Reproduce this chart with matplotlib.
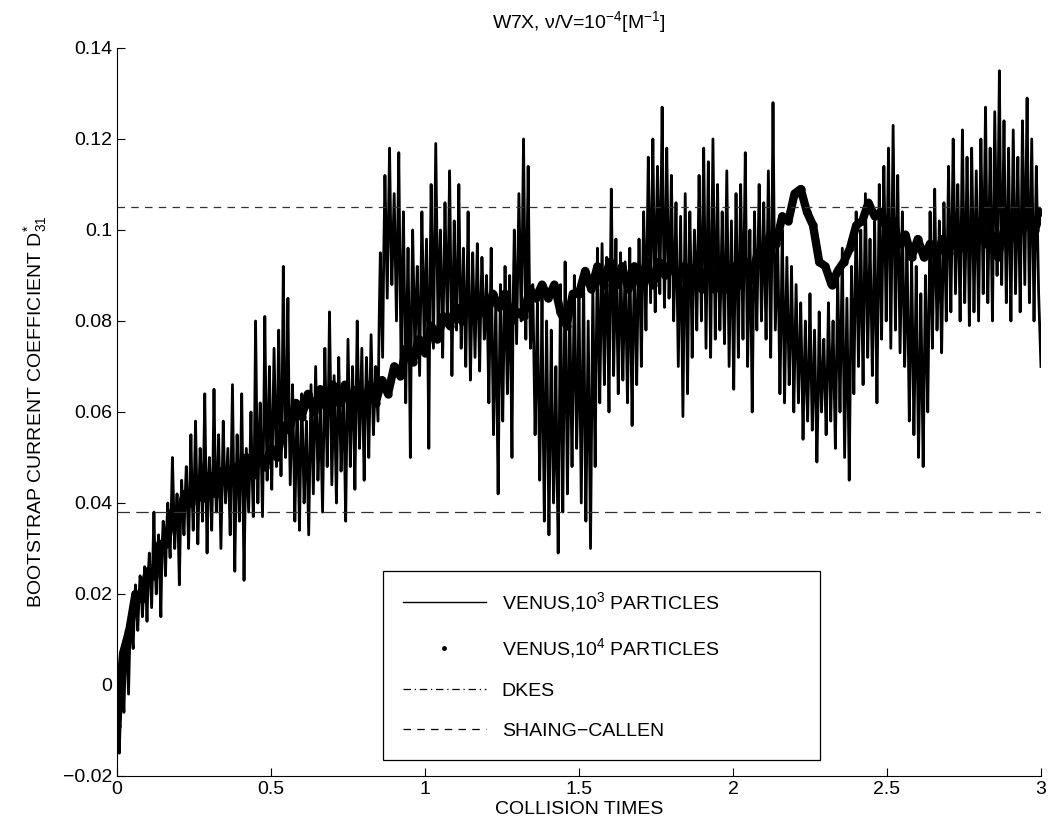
import numpy as np
import matplotlib
matplotlib.use('Agg')
import matplotlib.pyplot as plt
from matplotlib.lines import Line2D

plt.rcParams['font.family'] = ['Liberation Sans', 'DejaVu Sans']
plt.rcParams['mathtext.fontset'] = 'custom'
plt.rcParams['mathtext.rm'] = 'Liberation Sans'
plt.rcParams['mathtext.it'] = 'Liberation Sans'

# D31* from VENUS with 10^3 particles, units of 1e-3, sampled evenly over 0..3 collision times
# (one row = 0.15 collision times)
venus_1e3 = [
    -9, -4, -15, -6, 3, -1, -6, 4, 12, 5, -2, 9, 17, 11, 8, 16, 22, 18, 12, 19, 24, 21, 15, 20, 26, 22, 14, 24, 29, 23, 17, 27, 38, 26, 20, 28, 33, 25, 15, 30,
    36, 31, 24, 34, 40, 33, 28, 38, 50, 40, 30, 37, 42, 34, 22, 36, 45, 38, 33, 41, 48, 40, 30, 43, 55, 42, 34, 45, 58, 44, 31, 43, 52, 46, 36, 47, 64, 45, 29, 44,
    50, 43, 34, 46, 65, 48, 38, 45, 55, 42, 30, 44, 58, 47, 40, 46, 52, 43, 33, 49, 66, 45, 25, 42, 55, 46, 36, 48, 64, 44, 23, 41, 52, 45, 38, 48, 60, 47, 37, 52,
    80, 58, 40, 54, 62, 50, 37, 56, 81, 60, 45, 57, 70, 55, 43, 58, 74, 61, 48, 59, 78, 62, 46, 63, 92, 68, 50, 64, 85, 60, 44, 55, 66, 52, 36, 50, 62, 48, 34, 50,
    64, 52, 40, 48, 58, 46, 33, 50, 66, 54, 42, 56, 70, 58, 45, 53, 62, 50, 38, 55, 74, 60, 48, 62, 82, 64, 44, 56, 68, 54, 40, 57, 72, 60, 47, 55, 66, 52, 36, 57,
    76, 62, 48, 60, 70, 58, 43, 62, 80, 65, 52, 63, 74, 60, 45, 61, 72, 63, 50, 64, 77, 66, 55, 62, 70, 64, 58, 80, 95, 84, 72, 95, 112, 98, 85, 102, 118, 100, 88, 98,
    108, 94, 80, 98, 117, 92, 70, 88, 104, 84, 62, 80, 96, 76, 50, 82, 100, 86, 72, 84, 92, 80, 68, 85, 104, 90, 75, 86, 98, 78, 52, 88, 110, 92, 74, 96, 119, 98, 78, 90,
    100, 86, 72, 90, 106, 92, 80, 95, 113, 90, 68, 86, 102, 88, 78, 92, 110, 90, 74, 84, 96, 82, 70, 86, 104, 84, 67, 80, 95, 83, 72, 85, 97, 82, 69, 84, 94, 86, 76, 80,
    90, 76, 62, 80, 96, 74, 55, 70, 85, 64, 42, 68, 88, 72, 58, 76, 92, 78, 64, 76, 90, 72, 50, 84, 100, 88, 75, 92, 108, 94, 80, 98, 120, 96, 76, 94, 114, 90, 74, 80,
    88, 72, 55, 68, 84, 64, 45, 62, 86, 58, 36, 60, 80, 56, 33, 54, 78, 58, 40, 52, 70, 48, 29, 56, 88, 62, 38, 64, 93, 66, 42, 62, 84, 65, 48, 68, 90, 70, 52, 64,
    86, 62, 40, 66, 90, 60, 36, 58, 80, 54, 30, 60, 88, 68, 48, 74, 96, 78, 62, 80, 97, 82, 66, 84, 94, 78, 60, 86, 109, 88, 68, 82, 98, 80, 64, 78, 95, 82, 67, 80,
    93, 78, 62, 80, 96, 76, 57, 78, 92, 80, 66, 84, 98, 86, 70, 88, 104, 92, 78, 96, 116, 100, 84, 102, 120, 98, 82, 100, 114, 102, 86, 104, 127, 102, 83, 98, 118, 100, 85, 96,
    112, 96, 80, 92, 106, 88, 70, 86, 103, 82, 59, 84, 108, 86, 64, 88, 104, 90, 72, 88, 100, 92, 78, 94, 112, 96, 80, 98, 118, 96, 74, 94, 115, 92, 72, 96, 120, 98, 76, 94,
    110, 92, 78, 90, 104, 88, 75, 94, 113, 92, 70, 86, 102, 84, 65, 88, 108, 90, 72, 92, 110, 94, 76, 96, 117, 92, 70, 86, 100, 82, 60, 84, 104, 90, 78, 94, 110, 96, 80, 92,
    106, 90, 76, 94, 113, 92, 72, 96, 128, 100, 78, 88, 98, 82, 64, 80, 100, 84, 62, 78, 94, 80, 66, 76, 92, 78, 60, 74, 88, 75, 62, 72, 84, 70, 54, 68, 80, 66, 58, 70,
    86, 70, 56, 66, 78, 64, 49, 62, 82, 70, 60, 68, 76, 66, 55, 68, 84, 72, 58, 70, 80, 66, 52, 70, 90, 76, 60, 78, 96, 74, 50, 68, 85, 64, 45, 70, 92, 80, 64, 84,
    104, 86, 70, 84, 100, 82, 66, 88, 108, 90, 72, 86, 98, 84, 68, 82, 102, 84, 62, 86, 110, 92, 76, 96, 114, 98, 80, 100, 118, 96, 74, 98, 123, 100, 78, 96, 112, 92, 73, 88,
    104, 86, 70, 82, 98, 78, 58, 74, 94, 76, 55, 72, 92, 70, 50, 66, 86, 68, 48, 70, 90, 74, 60, 82, 104, 88, 74, 90, 109, 92, 78, 88, 102, 86, 73, 90, 106, 94, 80, 96,
    114, 98, 82, 100, 120, 104, 86, 98, 110, 96, 80, 100, 122, 102, 84, 98, 116, 100, 79, 96, 118, 102, 82, 98, 113, 96, 80, 100, 120, 104, 86, 106, 127, 104, 84, 100, 118, 98, 80, 104,
    126, 108, 90, 110, 135, 106, 88, 104, 124, 102, 84, 100, 118, 98, 80, 102, 122, 104, 86, 100, 116, 98, 82, 102, 124, 106, 88, 108, 129, 104, 84, 102, 120, 100, 80, 98, 114, 100, 86, 78,
    70,
]

# D31* from VENUS with 10^4 particles, units of 1e-3
venus_1e4 = [
    -9, 7, 12, 20, 19, 25, 24, 31, 31, 38, 37, 42, 40, 45, 41, 46, 42, 47, 44, 48,
    45, 50, 46, 51, 48, 52, 50, 57, 56, 62, 59, 64, 60, 65, 61, 66, 62, 66, 61, 65,
    60, 66, 62, 67, 64, 70, 68, 74, 71, 76, 73, 79, 76, 81, 79, 83, 80, 84, 81, 85,
    81, 86, 83, 86, 80, 82, 81, 87, 85, 88, 85, 88, 82, 79, 86, 86, 91, 87, 92, 88,
    93, 88, 92, 87, 92, 88, 93, 88, 93, 90, 93, 89, 92, 89, 92, 87, 92, 87, 92, 87,
    92, 88, 93, 89, 95, 93, 99, 97, 103, 102, 108, 109, 104, 101, 93, 92, 88, 91, 93, 96,
    101, 102, 106, 103, 104, 100, 102, 97, 99, 94, 98, 94, 97, 94, 98, 95, 100, 96, 101, 98,
    102, 97, 99, 94, 100, 98, 103, 100, 103, 100, 104,
]

shaing_callen = 0.038
dkes = 0.105

xticks = [0, 0.5, 1, 1.5, 2, 2.5, 3]
xtick_labels = ['0', '0.5', '1', '1.5', '2', '2.5', '3']
yticks = [-0.02, 0, 0.02, 0.04, 0.06, 0.08, 0.1, 0.12, 0.14]
ytick_labels = ['\u22120.02', '0', '0.02', '0.04', '0.06', '0.08', '0.1', '0.12', '0.14']

y1 = np.array(venus_1e3) / 1000.0
x1 = np.linspace(0, 3, len(y1))
y2 = np.array(venus_1e4) / 1000.0
x2 = np.linspace(0, 3, len(y2))

fig = plt.figure(figsize=(10.52, 8.39), dpi=100)
ax = fig.add_axes([0.1112, 0.0751, 0.8783, 0.8677])

ax.plot(x1, y1, color='black', lw=2.0)
ax.plot(x2, y2, color='black', lw=6.0, solid_joinstyle='round',
        marker='.', markersize=10)
ax.axhline(dkes, color='#333333', lw=0.9, linestyle=(0, (6, 5)))
ax.axhline(shaing_callen, color='#333333', lw=0.9, linestyle=(0, (10, 5)))

ax.set_xlim(0, 3)
ax.set_ylim(-0.02, 0.14)
ax.set_xticks(xticks)
ax.set_xticklabels(xtick_labels)
ax.set_yticks(yticks)
ax.set_yticklabels(ytick_labels)
ax.tick_params(direction='in', length=6, width=0.8, labelsize=14)
ax.spines['top'].set_visible(False)
ax.spines['right'].set_visible(False)

ax.set_xlabel('COLLISION TIMES', fontsize=14, labelpad=2)
ax.set_ylabel('BOOTSTRAP CURRENT COEFFICIENT D$_{31}^{*}$', fontsize=14, labelpad=10)
ax.set_title('W7X, \u03bd/V=10$^{-4}$[M$^{-1}$]', fontsize=14, pad=14)

handles = [
    Line2D([], [], color='black', lw=1.0),
    Line2D([], [], color='black', ls='none', marker='.', markersize=5),
    Line2D([], [], color='black', lw=0.9, linestyle=(0, (6, 3, 1, 3))),
    Line2D([], [], color='black', lw=0.9, linestyle=(0, (6, 5))),
]
labels = ['VENUS,10$^3$ PARTICLES', 'VENUS,10$^4$ PARTICLES', 'DKES', 'SHAING\u2212CALLEN']
leg = ax.legend(handles, labels, loc='upper left', bbox_to_anchor=(0.288, 0.282, 0.473, 0.0),
                mode='expand', borderaxespad=0, fontsize=14, handlelength=4.3,
                labelspacing=1.15, borderpad=1.0, fancybox=False, framealpha=1,
                edgecolor='black')
leg.get_frame().set_linewidth(0.9)

fig.savefig('out.png', dpi=100)
